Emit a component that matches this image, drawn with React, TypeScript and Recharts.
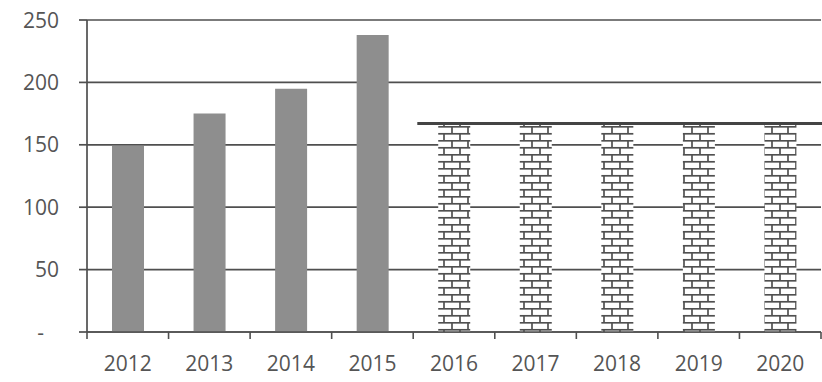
import React from 'react';
import { ComposedChart, Bar, XAxis, YAxis, CartesianGrid, ReferenceLine, Cell } from 'recharts';

const years = ['2012', '2013', '2014', '2015', '2016', '2017', '2018', '2019', '2020'];
const values = [149, 175, 195, 238, 167, 167, 167, 167, 167];
const forecast = [false, false, false, false, true, true, true, true, true];
const yTicks = [0, 50, 100, 150, 200, 250];
const targetLevel = 167;
const targetFromIndex = 4; // target line starts at the 2016 category

const data = years.map((y, i) => ({ year: y, value: values[i], forecast: forecast[i] }));

const TEXT = '#555555';
const LINE = '#4f4f4f';
const FONT = '"Open Sans", sans-serif';

const W = 822;
const H = 382;
const YW = 87;
const RIGHT = 1;

const XTick = (props: any) => {
  const { x, y, payload, index } = props;
  const half = payload && payload.offset ? payload.offset : (W - YW - RIGHT) / years.length / 2;
  const axisY = y - 8;
  return (
    <g>
      <line x1={x - half} x2={x - half} y1={axisY} y2={axisY + 7} stroke={LINE} strokeWidth={1.6} />
      {index === years.length - 1 && (
        <line x1={x + half} x2={x + half} y1={axisY} y2={axisY + 7} stroke={LINE} strokeWidth={1.6} />
      )}
      <text x={x} y={axisY + 39} textAnchor="middle" fill={TEXT} fontSize={21} fontFamily={FONT}>
        {payload.value}
      </text>
    </g>
  );
};

const YTick = (props: any) => {
  const { x, y, payload } = props;
  const isZero = payload.value === 0;
  return (
    <text
      x={isZero ? x - 15 : x}
      y={y}
      dy="0.36em"
      textAnchor="end"
      fill={TEXT}
      fontSize={21}
      fontFamily={FONT}
    >
      {isZero ? '-' : payload.value}
    </text>
  );
};

export default function App() {
  // numeric helper axis: category i is centred on value i, so boundaries sit at i - 0.5
  const segStart = targetFromIndex - 0.4;
  const segEnd = years.length - 0.5;
  return (
    <div style={{ position: 'absolute', left: 0, top: 0, width: W, height: H, background: '#fff' }}>
      <ComposedChart width={W} height={H} data={data} margin={{ top: 20, right: RIGHT, left: 0, bottom: 20 }}>
        <defs>
          <pattern id="brick" patternUnits="userSpaceOnUse" width={16} height={14} x={0} y={0}>
            <rect x={0} y={0} width={16} height={14} fill="#fff" />
            <line x1={0} x2={16} y1={0.8} y2={0.8} stroke="#505050" strokeWidth={1.7} />
            <line x1={0} x2={16} y1={7.8} y2={7.8} stroke="#505050" strokeWidth={1.7} />
            <line x1={4} x2={4} y1={0} y2={7.5} stroke="#505050" strokeWidth={1.7} />
            <line x1={12} x2={12} y1={7.5} y2={14} stroke="#505050" strokeWidth={1.7} />
          </pattern>
        </defs>
        <CartesianGrid vertical={false} stroke={LINE} strokeWidth={1.7} />
        <XAxis
          dataKey="year"
          xAxisId={0}
          height={30}
          tickLine={false}
          axisLine={{ stroke: LINE, strokeWidth: 1.7 }}
          interval={0}
          tick={<XTick />}
        />
        <XAxis xAxisId="seg" type="number" domain={[0, years.length]} hide />
        <YAxis
          width={YW}
          domain={[0, 250]}
          ticks={yTicks}
          tickSize={8}
          tickMargin={20}
          tickLine={{ stroke: LINE, strokeWidth: 1.7 }}
          axisLine={{ stroke: LINE, strokeWidth: 1.7 }}
          tick={<YTick />}
          interval={0}
        />
        <Bar dataKey="value" xAxisId={0} barSize={32} isAnimationActive={false}>
          {data.map((d, i) => (
            <Cell key={i} fill={d.forecast ? 'url(#brick)' : '#8e8e8e'} />
          ))}
        </Bar>
        <ReferenceLine
          xAxisId="seg"
          segment={[
            { x: segStart, y: targetLevel },
            { x: segEnd, y: targetLevel },
          ]}
          stroke="#444"
          strokeWidth={3}
          ifOverflow="visible"
        />
      </ComposedChart>
    </div>
  );
}
